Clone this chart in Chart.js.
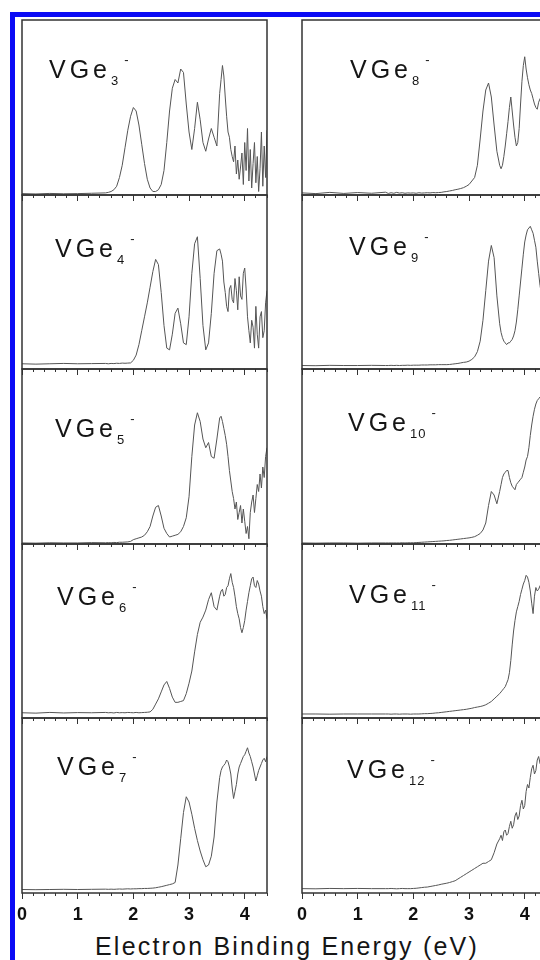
<!DOCTYPE html>
<html lang="en">
  <head>
    <meta charset="UTF-8" />
    <title>VGen- photoelectron spectra</title>
    <script src="https://cdn.jsdelivr.net/npm/chart.js"></script>
    <style>
      body { margin: 0; background: #fff; font-family: "Liberation Sans", Arial, sans-serif; }
      #page { position: relative; width: 540px; height: 960px; overflow: hidden; background: #fff; }
      #blue { position: absolute; left: 10px; top: 12px; width: 540px; height: 960px; box-sizing: border-box;
              border-top: 5px solid #0b0bf5; border-left: 5px solid #0b0bf5; }
      canvas { position: absolute; }
      .lbl { position: absolute; font-size: 25px; line-height: 25px; letter-spacing: 4px; color: #151515; white-space: nowrap; }
      .lbl .sub { position: relative; top: 7px; font-size: 13px; letter-spacing: 1px; }
      .lbl .sup { position: relative; top: -14px; font-size: 13px; margin-left: 5px; }
      #xtitle { position: absolute; left: 95px; top: 934px; font-size: 25px; line-height: 25px; letter-spacing: 2.2px; color: #151515; white-space: nowrap; }
    </style>
  </head>

  <body>
    <div id="page">
      <div id="blue"></div>
      <div id="xtitle">Electron Binding Energy (eV)</div>
    </div>

    <script>
      // binding energy grid (eV): coarse over the flat baseline, finer where the spectra get busy
      const energy = [0, 0.25, 0.5, 0.75, 1, 1.25, 1.5,
        1.55, 1.6, 1.65, 1.7, 1.75, 1.8, 1.85, 1.9, 1.95, 2,
        2.05, 2.1, 2.15, 2.2, 2.25, 2.3, 2.35, 2.4, 2.45, 2.5,
        2.55, 2.6, 2.65, 2.7, 2.75, 2.8, 2.85, 2.9, 2.95, 3,
        3.05, 3.1, 3.15, 3.2, 3.25, 3.3, 3.35, 3.4, 3.45, 3.5,
        3.55, 3.575, 3.6, 3.625, 3.65, 3.675, 3.7, 3.725, 3.75, 3.775,
        3.8, 3.825, 3.85, 3.875, 3.9, 3.925, 3.95, 3.975, 4, 4.025,
        4.05, 4.075, 4.1, 4.125, 4.15, 4.175, 4.2, 4.225, 4.25, 4.275,
        4.3, 4.325, 4.35, 4.375, 4.4];
      const xTicks = [0, 1, 2, 3, 4];
      const clusterSizes = ["3", "4", "5", "6", "7", "8", "9", "10", "11", "12"];

      // intensities, arbitrary units (0 = panel floor, 100 = panel top)
      const vge3 = [0.8, 0.6, 0.9, 0.7, 0.8, 1.0, 1.2,
        1.5, 2, 3, 5, 10, 17, 27, 37, 45, 50,
        48, 40, 29, 18, 9, 4, 2, 2, 3, 6,
        14, 30, 48, 61, 66, 64, 72, 70, 52, 36,
        26, 38, 53, 43, 30, 25, 32, 38, 33, 28,
        58, 66, 74, 68, 56, 45, 36, 33, 26, 22,
        19, 28, 12, 20, 9, 16, 24, 6, 30, 14,
        38, 8, 26, 4, 18, 30, 7, 22, 2, 15,
        36, 5, 28, 10, 37];
      const vge4 = [3, 2.8, 3, 3.2, 3, 3.1, 3.2,
        3, 3.2, 3.1, 3.3, 3.2, 3.4, 3.3, 3.4, 3.5, 5,
        8, 14, 22, 30, 38, 47, 56, 63, 60, 44,
        25, 12, 11, 20, 32, 35, 26, 15, 14, 30,
        55, 72, 76, 52, 25, 11, 15, 32, 55, 68,
        69, 66, 62, 50, 44, 36, 33, 46, 48, 40,
        38, 52, 45, 34, 53, 42, 40, 55, 58, 46,
        30, 22, 15, 28, 24, 12, 36, 20, 12, 30,
        33, 18, 22, 38, 45];
      const vge5 = [0.6, 0.5, 0.7, 0.6, 0.6, 0.8, 0.7,
        0.8, 0.7, 0.9, 0.8, 1, 1, 1.1, 1.2, 1.5, 2.5,
        3, 3.5, 4, 5, 7, 10, 16, 21, 22, 16,
        9, 6, 4, 4.5, 5, 5.5, 7, 10, 15, 27,
        50, 68, 75, 70, 60, 55, 58, 50, 49, 60,
        72, 73, 70, 66, 62, 57, 50, 42, 36, 30,
        26, 20, 24, 14, 18, 22, 12, 20, 13, 6,
        10, 3, 18, 24, 28, 18, 26, 34, 30, 40,
        32, 44, 38, 50, 55];
      const vge6 = [3, 2.8, 3.2, 2.9, 3.1, 3, 3.2,
        3, 3.1, 2.9, 3.2, 3, 3.1, 3, 3.2, 3.1, 3,
        3.2, 3, 3.1, 3.2, 3.3, 3.5, 5, 8, 11, 15,
        19, 21, 17, 12, 9, 9, 9.5, 10, 14, 20,
        27, 38, 48, 55, 58, 62, 68, 72, 64, 62,
        70, 73, 74, 70, 71, 75, 76, 80, 83, 78,
        75, 70, 64, 60, 57, 52, 49, 52, 56, 62,
        67, 72, 76, 80, 81, 76, 75, 79, 77, 73,
        70, 64, 60, 62, 57];
      const vge7 = [2, 1.9, 2, 2.1, 2, 2.1, 2.2,
        2.1, 2.2, 2.1, 2.2, 2.3, 2.2, 2.3, 2.4, 2.3, 2.4,
        2.4, 2.5, 2.5, 2.6, 2.6, 2.7, 2.8, 3, 3.3, 3.6,
        4, 4.4, 4.8, 5.2, 6, 16, 31, 46, 55, 52,
        45, 37, 30, 24, 19, 15, 16, 21, 32, 52,
        66, 70, 72, 73, 74, 76, 75, 72, 68, 60,
        54, 58, 62, 68, 72, 74, 76, 78, 79, 81,
        83, 80, 78, 75, 72, 68, 64, 67, 70, 72,
        74, 76, 77, 75, 78];
      const vge8 = [1.2, 0.8, 1.5, 0.9, 1.4, 1.0, 1.6,
        0.9, 1.3, 1.0, 1.5, 1.1, 1.3, 1.0, 1.2, 1.1, 1.2,
        1.0, 1.3, 1.1, 1.2, 1.3, 1.2, 1.4, 1.3, 1.4, 1.5,
        1.8, 2, 2.3, 2.6, 3, 3.3, 3.7, 4.2, 5, 6,
        8, 10, 17, 32, 48, 60, 64, 56, 40, 25,
        17, 15, 17, 22, 28, 35, 42, 50, 56, 48,
        40, 33, 28, 30, 38, 52, 65, 74, 79, 72,
        67, 63, 60, 58, 55, 52, 50, 49, 53, 55,
        56, 54, 54, 56, 55];
      const vge9 = [2, 1.9, 2.1, 2, 2, 2.1, 2,
        2, 2.1, 2, 2.1, 2, 2.1, 2.1, 2.2, 2.1, 2.2,
        2.2, 2.2, 2.3, 2.3, 2.3, 2.4, 2.4, 2.4, 2.5, 2.5,
        2.5, 2.5, 2.6, 2.8, 3, 3.2, 3.5, 3.8, 4, 4.5,
        5.5, 7, 10, 16, 28, 45, 62, 71, 64, 42,
        26, 21, 18, 16, 15, 14, 15, 15, 16, 17,
        19, 22, 27, 34, 42, 50, 58, 66, 73, 77,
        80, 81, 82, 80, 78, 74, 70, 62, 55, 48,
        43, 40, 38, 36, 35];
      const vge10 = [0.6, 0.5, 0.6, 0.6, 0.5, 0.6, 0.6,
        0.6, 0.6, 0.6, 0.6, 0.6, 0.7, 0.6, 0.7, 0.7, 0.7,
        0.8, 0.9, 1, 1.1, 1.2, 1.3, 1.4, 1.5, 1.6, 1.7,
        1.8, 2, 2.1, 2.3, 2.5, 2.7, 2.9, 3.1, 3.3, 3.5,
        3.8, 4.2, 5, 6, 8, 12, 22, 30, 28, 23,
        30, 34, 38, 40, 41, 42, 42, 38, 35, 33,
        32, 31, 34, 35, 36, 37, 38, 41, 44, 48,
        50, 55, 62, 68, 73, 77, 80, 82, 83, 84,
        82, 83, 84, 85, 85];
      const vge11 = [2.3, 2.3, 2.2, 2.3, 2.3, 2.3, 2.3,
        2.3, 2.2, 2.3, 2.3, 2.2, 2.3, 2.3, 2.3, 2.2, 2.3,
        2.3, 2.3, 2.4, 2.5, 2.5, 2.6, 2.7, 2.9, 3, 3.2,
        3.4, 3.6, 3.8, 4, 4.2, 4.4, 4.6, 4.8, 5, 5.3,
        5.6, 6, 6.3, 6.6, 7, 7.6, 8.5, 9.5, 11, 12.5,
        14, 15, 16, 17, 18, 20, 22, 26, 33, 42,
        50, 56, 61, 64, 67, 71, 74, 77, 79, 82,
        81, 78, 73, 66, 60, 70, 75, 73, 74, 76,
        75, 73, 74, 76, 75];
      const vge12 = [2.5, 2.4, 2.6, 2.5, 2.6, 2.5, 2.5,
        2.5, 2.6, 2.5, 2.4, 2.5, 2.6, 2.5, 2.5, 2.5, 2.6,
        2.7, 2.9, 3.1, 3.3, 3.4, 3.7, 4, 4.3, 4.6, 5,
        5.3, 5.6, 6, 6.5, 7, 8, 9, 10, 11, 12,
        13, 14, 15, 16, 17, 17, 18, 19, 23, 28,
        31, 33, 30, 35, 36, 33, 34, 38, 41, 37,
        39, 44, 46, 42, 44, 50, 53, 48, 50, 58,
        62, 60, 66, 71, 73, 68, 70, 76, 78, 74,
        76, 80, 82, 79, 84];
      const spectra = [vge3, vge4, vge5, vge6, vge7, vge8, vge9, vge10, vge11, vge12];

      // panel layout
      const colLeft = [22, 302];
      const panelWidth = 245;
      const rowTop = [20, 195, 369, 544, 718, 893];
      const labelDx = [27, 33, 33, 35, 35, 48, 47, 46, 47, 45];
      const labelDy = [58, 62, 68, 61, 57, 58, 60, 62, 59, 60];
      const padX = 14;
      const padTop = 3;

      Chart.defaults.font.family = "'Liberation Sans', Arial, sans-serif";
      Chart.defaults.color = "#111";

      const framePlugin = {
        id: "frame",
        afterDraw(chart) {
          const { ctx, chartArea: a } = chart;
          ctx.save();
          ctx.strokeStyle = "#333";
          ctx.lineWidth = 1.5;
          ctx.strokeRect(a.left, a.top, a.right - a.left, a.bottom - a.top);
          ctx.restore();
        },
      };

      const page = document.getElementById("page");

      spectra.forEach((values, i) => {
        const col = i < 5 ? 0 : 1;
        const row = i % 5;
        const isBottom = row === 4;
        const ph = rowTop[row + 1] - rowTop[row];
        const axisH = isBottom ? 38 : 8;

        const canvas = document.createElement("canvas");
        canvas.width = panelWidth + 2 * padX;
        canvas.height = padTop + ph + axisH;
        canvas.style.left = colLeft[col] - padX + "px";
        canvas.style.top = rowTop[row] - padTop + "px";
        page.appendChild(canvas);

        new Chart(canvas, {
          type: "line",
          data: {
            datasets: [
              {
                data: energy.map((e, k) => ({ x: e, y: values[k] })),
                borderColor: "#555",
                borderWidth: 1,
                pointRadius: 0,
                tension: 0,
                fill: false,
              },
            ],
          },
          options: {
            responsive: false,
            animation: false,
            devicePixelRatio: 1,
            layout: { padding: { left: padX, right: padX, top: padTop, bottom: 0 } },
            plugins: { legend: { display: false }, tooltip: { enabled: false } },
            scales: {
              x: {
                type: "linear",
                position: "bottom",
                weight: 1,
                min: 0,
                max: 4.4,
                bounds: "data",
                border: { display: false },
                grid: { drawOnChartArea: false, tickLength: 6, color: "#333", lineWidth: 1 },
                ticks: {
                  display: isBottom,
                  stepSize: 1,
                  includeBounds: false,
                  autoSkip: false,
                  maxRotation: 0,
                  padding: 5,
                  color: "#111",
                  font: { size: 18, weight: "bold" },
                  callback: (v) => (xTicks.includes(v) ? String(v) : ""),
                },
                afterFit: (ax) => {
                  ax.height = axisH;
                  ax.paddingLeft = 0;
                  ax.paddingRight = 0;
                },
              },
              minor: {
                type: "linear",
                position: "bottom",
                weight: 0,
                min: 0,
                max: 4.4,
                bounds: "data",
                border: { display: false },
                grid: { drawOnChartArea: false, tickLength: 3, color: "#333", lineWidth: 1 },
                ticks: { display: false, stepSize: 0.2, includeBounds: false },
                afterFit: (ax) => {
                  ax.height = 0;
                  ax.paddingLeft = 0;
                  ax.paddingRight = 0;
                },
              },
              y: { display: false, min: 0, max: 100 },
            },
          },
          plugins: [framePlugin],
        });

        const lbl = document.createElement("div");
        lbl.className = "lbl";
        lbl.innerHTML = 'VGe<span class="sub">' + clusterSizes[i] + '</span><span class="sup">-</span>';
        lbl.style.left = colLeft[col] + labelDx[i] + "px";
        lbl.style.top = rowTop[row] + labelDy[i] - 21 + "px";
        page.appendChild(lbl);
      });
    </script>
  </body>
</html>
